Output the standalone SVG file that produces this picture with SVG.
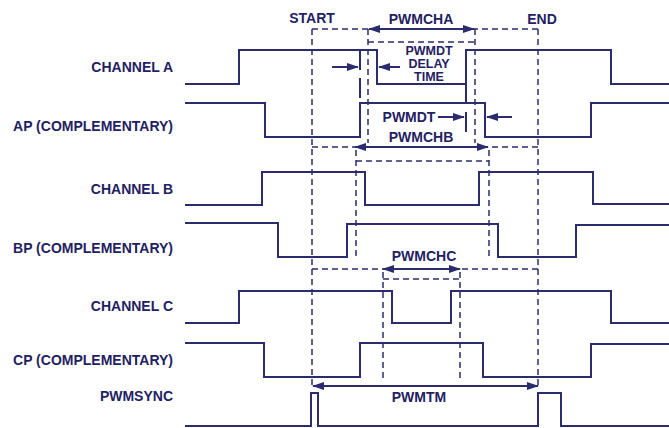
<svg xmlns="http://www.w3.org/2000/svg" width="669" height="428" viewBox="0 0 669 428">
<style>
text{font-family:"Liberation Sans",Arial,sans-serif;font-weight:bold;font-size:14px;fill:#1f2163}
.lbl{text-anchor:end}
.c{text-anchor:middle}
.sm{font-size:12.5px}
.sig{fill:none;stroke:#2a2c6e;stroke-width:2}
.dash{fill:none;stroke:#2a2c6e;stroke-width:1.5;stroke-dasharray:6,4}
.ldash{fill:none;stroke:#2a2c6e;stroke-width:2;stroke-dasharray:20,8}
.arr{fill:none;stroke:#2a2c6e;stroke-width:2}
</style>
<defs>
<marker id="ah" markerUnits="userSpaceOnUse" markerWidth="12" markerHeight="8" refX="11" refY="4" orient="auto-start-reverse">
<path d="M0,0 L12,4 L0,8 z" fill="#2a2c6e"/>
</marker>
</defs>
<rect width="669" height="428" fill="#ffffff"/>

<g id="labels">
<text class="lbl" x="173" y="72">CHANNEL A</text>
<text class="lbl" x="173" y="131">AP (COMPLEMENTARY)</text>
<text class="lbl" x="173" y="194">CHANNEL B</text>
<text class="lbl" x="173" y="253">BP (COMPLEMENTARY)</text>
<text class="lbl" x="173" y="311">CHANNEL C</text>
<text class="lbl" x="173" y="365">CP (COMPLEMENTARY)</text>
<text class="lbl" x="173" y="401">PWMSYNC</text>
</g>

<g id="channel-a"><path class="sig" d="M185,84 H239 V50 H377 V84 H466 V50 H611 V84 H669"/></g>
<g id="ap"><path class="sig" d="M185,103 H265 V137 H360 V103 H485 V137 H591 V103 H669"/></g>
<g id="channel-b"><path class="sig" d="M185,205 H262 V172 H365 V205 H479 V172 H593 V204 H669"/></g>
<g id="bp"><path class="sig" d="M185,223 H278 V257 H347 V224 H498 V257 H576 V225 H669"/></g>
<g id="channel-c"><path class="sig" d="M185,323 H239 V291 H392 V323 H451 V291 H611 V323 H669"/></g>
<g id="cp"><path class="sig" d="M185,343 H264 V377 H360 V343 H483 V377 H591 V344 H669"/></g>
<g id="pwmsync"><path class="sig" d="M185,426 H311 V393 H318 V426 H538 V393 H561 V426 H669"/></g>

<g id="connectors">
<path class="ldash" d="M360,50 V103"/>
<path class="ldash" d="M466,84 V137"/>
<path class="dash" d="M312,29 H538 M312,29 V386 M538,29 V386"/>
<path class="dash" d="M368,29 V143 M368,42 H475 M475,29 V143"/>
<path class="dash" d="M312,147 H538 M356,150 V258 M356,161 H489 M489,150 V258"/>
<path class="dash" d="M312,269 H538 M383,272 V378 M383,279 H460 M460,272 V378"/>
<path class="arr" d="M369,29 H474" marker-start="url(#ah)" marker-end="url(#ah)"/>
<path class="arr" d="M355,147 H488" marker-start="url(#ah)" marker-end="url(#ah)"/>
<path class="arr" d="M383,269 H460" marker-start="url(#ah)" marker-end="url(#ah)"/>
<path class="arr" d="M313,386 H538" marker-start="url(#ah)" marker-end="url(#ah)"/>
<path class="arr" d="M332,67 H358" marker-end="url(#ah)"/>
<path class="arr" d="M400,67 H379" marker-end="url(#ah)"/>
<path class="arr" d="M438,117 H464" marker-end="url(#ah)"/>
<path class="arr" d="M512,117 H487" marker-end="url(#ah)"/>
</g>

<g id="annotations">
<text class="c" x="312" y="23">START</text>
<text class="c" x="542" y="24">END</text>
<text class="c" x="421" y="24">PWMCHA</text>
<text class="c sm" x="429" y="55">PWMDT</text>
<text class="c sm" x="429" y="68">DELAY</text>
<text class="c sm" x="429" y="81">TIME</text>
<text class="c" x="409" y="122">PWMDT</text>
<text class="c" x="421" y="142">PWMCHB</text>
<text class="c" x="424" y="261">PWMCHC</text>
<text class="c" x="419" y="402">PWMTM</text>
</g>
</svg>
